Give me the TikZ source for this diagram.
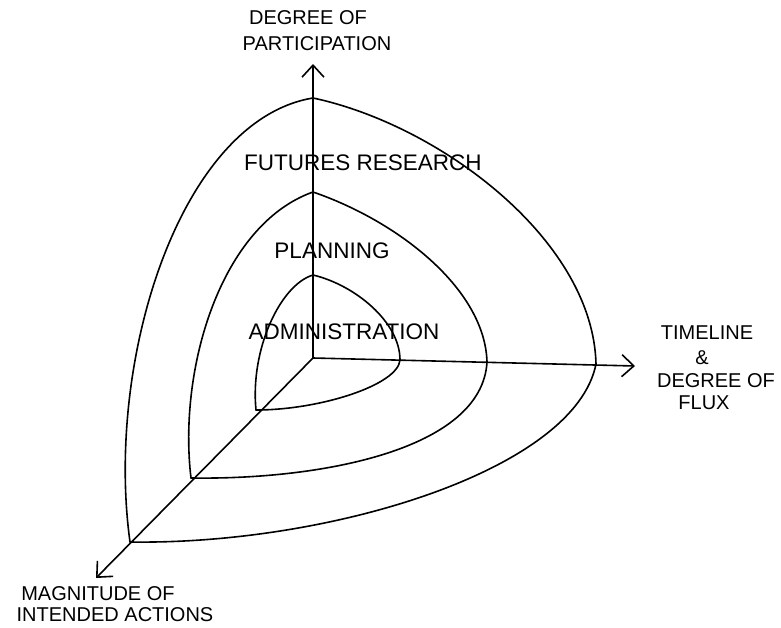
\documentclass[tikz,border=0pt]{standalone}
\usepackage{fontspec}
\setmainfont{Liberation Sans}
\usetikzlibrary{arrows.meta}
\begin{document}
\begin{tikzpicture}[x=1pt,y=-1pt,
  pen/.style={line width=1.6pt, line join=round, line cap=round},
  axisline/.style={pen, -{Straight Barb[length=12pt,width=22pt,line width=1.6pt]}},
  ring/.style={pen},
  axislbl/.style={font=\fontsize{20}{22}\selectfont, inner sep=0pt},
  ringlbl/.style={font=\fontsize{22.5}{24}\selectfont, inner sep=0pt}]
\useasboundingbox (0,0) rectangle (781,628);

% axes
\coordinate (O) at (313,358);
\coordinate (Tup) at (313,64);
\coordinate (Tright) at (635,366);
\coordinate (Tdiag) at (96,578);
\draw[axisline] (O) -- (Tup);
\draw[axisline] (O) -- (Tright);
\draw[axisline] (O) -- (Tdiag);

% ring corner points
\coordinate (A1) at (313,275);
\coordinate (B1) at (400,360);
\coordinate (C1) at (256,410);
\coordinate (A2) at (313,192);
\coordinate (B2) at (487,362);
\coordinate (C2) at (191,478);
\coordinate (A3) at (313,98);
\coordinate (B3) at (596,364);
\coordinate (C3) at (130,542);

% inner ring
\draw[ring] (A1) .. controls (355,285) and (400,322) .. (B1);
\draw[ring] (B1) .. controls (398,385) and (320,410) .. (C1);
\draw[ring] (C1) .. controls (250,350) and (280,285) .. (A1);

% middle ring
\draw[ring] (A2) .. controls (400,222) and (485,290) .. (B2);
\draw[ring] (B2) .. controls (482,450) and (320,480) .. (C2);
\draw[ring] (C2) .. controls (178,370) and (220,225) .. (A2);

% outer ring
\draw[ring] (A3) .. controls (440,125) and (593,240) .. (B3);
\draw[ring] (B3) .. controls (575,470) and (330,545) .. (C3);
\draw[ring] (C3) .. controls (105,360) and (180,120) .. (A3);

% ring labels
\node[ringlbl] (fr) at (363,163) {FUTURES RESEARCH};
\node[ringlbl] (pl) at (332,251) {PLANNING};
\node[ringlbl] (ad) at (344,332) {ADMINISTRATION};

% axis labels
\node[axislbl] (up1) at (308,18) {DEGREE OF};
\node[axislbl] (up2) at (317,44) {PARTICIPATION};
\node[axislbl] (r1) at (707,333) {TIMELINE};
\node[axislbl] (r2) at (702,358) {\&};
\node[axislbl] (r3) at (716,381) {DEGREE OF};
\node[axislbl] (r4) at (704,403) {FLUX};
\node[axislbl] (d1) at (98,594) {MAGNITUDE OF};
\node[axislbl] (d2) at (115,615) {INTENDED ACTIONS};
\end{tikzpicture}
\end{document}
